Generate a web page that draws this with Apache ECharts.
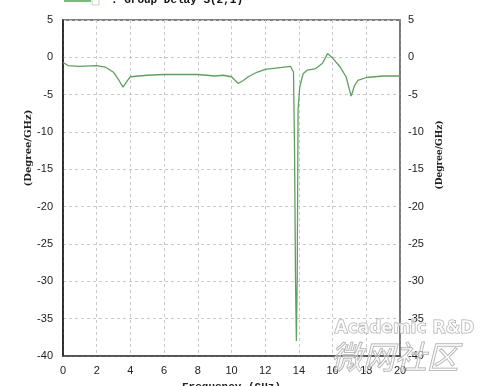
<!DOCTYPE html>
<html><head><meta charset="utf-8">
<script src="https://cdn.jsdelivr.net/npm/echarts@6/dist/echarts.min.js"></script>
<style>html,body{margin:0;padding:0;background:#fff}#c{width:480px;height:386px}</style>
</head><body><div id="c"></div>
<script>
const freq = [0,0.3,1,2,2.5,3,3.3,3.56,3.8,4,5,6,7,8,8.5,9,9.5,10,10.4,10.7,11,11.5,12,13,13.5,13.6,13.68,13.74,13.8,13.85,13.9,13.95,14.05,14.25,14.5,15,15.4,15.7,16,16.45,16.8,17.1,17.3,17.5,18,19,20];
const delay = [-0.7,-1.1,-1.2,-1.1,-1.3,-2.0,-3.0,-4.0,-3.2,-2.6,-2.4,-2.3,-2.3,-2.3,-2.4,-2.5,-2.4,-2.6,-3.5,-3.1,-2.6,-2.0,-1.6,-1.35,-1.2,-1.1,-2.0,-12,-30,-38,-29.5,-7,-4,-2.2,-1.7,-1.5,-0.8,0.5,-0.1,-1.3,-2.6,-5.2,-3.8,-3.1,-2.7,-2.5,-2.5];
const yTicks = {min:-40, max:5, step:5};
const xTicks = {min:0, max:20, step:2};
const seriesName = ': Group Delay S(2,1)';
const yName = '(Degree/GHz)';
const xName = 'Frequency (GHz)';

const chart = echarts.init(document.getElementById('c'), null, {renderer:'canvas'});
const lab = {color:'#222', fontFamily:'Liberation Sans, Arial', fontSize:11};
const split = {show:true, lineStyle:{color:'#c8c8c8', type:[3,3], width:1}};
chart.setOption({
  animation:false,
  grid:{left:63, right:80, top:20, bottom:30, show:true, borderColor:'#555', borderWidth:1.5, outerBoundsMode:'none', containLabel:false},
  xAxis:{type:'value', min:xTicks.min, max:xTicks.max, interval:xTicks.step,
    axisLine:{show:true, onZero:false, lineStyle:{color:'#444', width:1.5}}, axisTick:{show:false},
    axisLabel:Object.assign({margin:9}, lab), splitLine:split,
    name:xName, nameLocation:'middle', nameGap:26, nameTextStyle:{fontFamily:'Liberation Mono', fontWeight:'bold', fontSize:11, color:'#222'}},
  yAxis:[
    {type:'value', min:yTicks.min, max:yTicks.max, interval:yTicks.step, position:'left',
     axisLine:{show:true, onZero:false, lineStyle:{color:'#111', width:1.5}}, axisTick:{show:false},
     axisLabel:Object.assign({margin:10}, lab), splitLine:split},
    {type:'value', min:yTicks.min, max:yTicks.max, interval:yTicks.step, position:'right',
     axisLine:{show:true, onZero:false, lineStyle:{color:'#777', width:1.5}}, axisTick:{show:false},
     axisLabel:Object.assign({margin:8, align:'left'}, lab), splitLine:{show:false}}
  ],
  graphic:[
    {type:'line', shape:{x1:64,y1:1,x2:91,y2:1}, style:{stroke:'#7fb87f', lineWidth:2}},
    {type:'rect', shape:{x:92,y:-4,width:7,height:9}, style:{fill:'#fff', stroke:'#bcd9bc', lineWidth:1}},
    {type:'text', x:111, y:6, style:{text:seriesName, font:'bold 11px "Liberation Mono"', fill:'#111', textVerticalAlign:'bottom'}},
    {type:'text', x:28, y:148, rotation:Math.PI/2, style:{text:yName, font:'bold 10px "DejaVu Serif"', fill:'#222', textAlign:'center', textVerticalAlign:'middle'}},
    {type:'text', x:440, y:155, rotation:Math.PI/2, style:{text:yName, font:'bold 9px "DejaVu Serif"', fill:'#222', textAlign:'center', textVerticalAlign:'middle'}},
    {type:'text', left:334, top:320, z:10, style:{text:'Academic R&D', font:'bold 17px "DejaVu Sans"', fill:'rgba(255,255,255,0.6)', stroke:'#aaa', lineWidth:1}},
    {type:'text', left:330, top:340, z:10, style:{text:'微网社区', font:'italic 32px "Noto Sans CJK SC"', fill:'rgba(255,255,255,0.4)', stroke:'#aaa', lineWidth:1}}
  ],
  series:[{type:'line', name:seriesName, yAxisIndex:0, data:freq.map((f,i)=>[f,delay[i]]),
    showSymbol:false, lineStyle:{color:'#5f9f5f', width:1.3}, smooth:false}]
});
</script></body></html>
